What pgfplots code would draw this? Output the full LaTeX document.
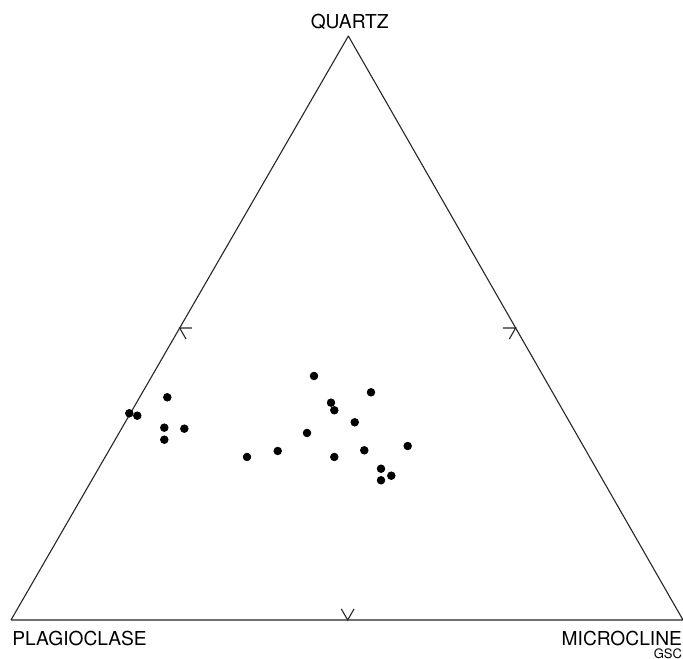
\documentclass[border=0pt]{standalone}
\usepackage{fontspec}
\setmainfont{TeX Gyre Heros}
\usepackage{pgfplots}
\pgfplotsset{compat=1.18}
\begin{document}
\begin{tikzpicture}
\begin{axis}[hide axis, scale only axis, x=336pt, y=336pt,
  xmin=-0.01637, xmax=1.0, ymin=-0.058, ymax=0.9226, clip=false]
% triangle
\addplot[black!85, line width=0.55pt, line join=round] coordinates {(0,0) (1,0) (0.502,0.869) (0,0)};
% 50% ticks
\addplot[black!85, line width=0.55pt] coordinates {(0.269,0.4345) (0.251,0.4345) (0.2605,0.418)};
\addplot[black!85, line width=0.55pt] coordinates {(0.732,0.4345) (0.751,0.4345) (0.7415,0.418)};
\addplot[black!85, line width=0.55pt] coordinates {(0.4915,0.0165) (0.501,0) (0.5105,0.0165)};
% samples
\addplot[only marks, mark=*, mark size=1.9pt, black] coordinates {
(0.2326,0.3314) (0.1760,0.3076) (0.1879,0.3040) (0.2281,0.2862) (0.2579,0.2847)
(0.2281,0.2683) (0.4509,0.3631) (0.5357,0.3388) (0.4762,0.3234) (0.4811,0.3121)
(0.5115,0.2942) (0.4405,0.2783) (0.3969,0.2515) (0.3512,0.2426) (0.4811,0.2426)
(0.5257,0.2525) (0.5903,0.2589) (0.5506,0.2251) (0.5659,0.2147) (0.5506,0.2079)
};
\node[font=\fontsize{9.6}{11}\selectfont] at (axis cs:0.504,0.890) {QUARTZ};
\node[font=\fontsize{9.6}{11}\selectfont, anchor=west, inner sep=0pt] at (axis cs:0.0015,-0.0268) {PLAGIOCLASE};
\node[font=\fontsize{9.6}{11}\selectfont, anchor=east, inner sep=0pt] at (axis cs:0.999,-0.0268) {MICROCLINE};
\node[font=\fontsize{6.5}{7}\selectfont, anchor=south east, inner sep=0pt] at (axis cs:0.999,-0.0575) {GSC};
\end{axis}
\pgfresetboundingbox
\useasboundingbox (current axis.south west) rectangle (current axis.north east);
\end{tikzpicture}
\end{document}
